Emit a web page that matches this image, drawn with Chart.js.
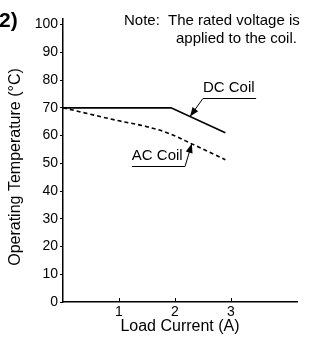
<!DOCTYPE html>
<html>
<head>
<meta charset="utf-8">
<script src="https://cdn.jsdelivr.net/npm/chart.js@4.4.1/dist/chart.umd.min.js"></script>
<style>
  html, body { margin: 0; padding: 0; background: #fff; overflow: hidden; }
</style>
</head>
<body>
<canvas id="tempChart" width="309" height="341"></canvas>
<script>
// data
const dcCurrent = [0, 1.93, 2.9];
const dcTemp = [70, 70, 61];
const acCurrent = [0, 1, 1.5, 1.9, 2.3, 2.9];
const acTemp = [70, 65.3, 63.2, 60.7, 57, 51.3];
const xTicks = [1, 2, 3];
const yTicks = [0, 10, 20, 30, 40, 50, 60, 70, 80, 90, 100];

// callouts: label, text anchor (x, y), underline end x, arrow tip (x, y), all in data units
const dcCallout = { label: 'DC Coil', x: 2.5, y: 77.3, lineY: 73.4, lineEnd: 3.45, from: 'start', tip: [2.27, 66.9] };
const acCallout = { label: 'AC Coil', x: 1.23, y: 52.5, lineY: 49.1, lineEnd: 2.18, from: 'end', tip: [2.3, 57] };

const FONT = "'Liberation Sans', Arial, Helvetica, sans-serif";

function toPoints(xs, ys) {
    return xs.map((x, i) => ({ x: x, y: ys[i] }));
}

function drawArrow(ctx, x0, y0, x1, y1) {
    ctx.beginPath();
    ctx.moveTo(x0, y0);
    ctx.lineTo(x1, y1);
    ctx.stroke();
    const ang = Math.atan2(y1 - y0, x1 - x0);
    const len = 9, half = 3.5;
    ctx.beginPath();
    ctx.moveTo(x1, y1);
    ctx.lineTo(x1 - len * Math.cos(ang) + half * Math.sin(ang), y1 - len * Math.sin(ang) - half * Math.cos(ang));
    ctx.lineTo(x1 - len * Math.cos(ang) - half * Math.sin(ang), y1 - len * Math.sin(ang) + half * Math.cos(ang));
    ctx.closePath();
    ctx.fill();
}

const extras = {
    id: 'extras',
    afterDraw(chart) {
        const ctx = chart.ctx;
        const xs = chart.scales.x, ys = chart.scales.y;
        ctx.save();
        ctx.strokeStyle = '#000';
        ctx.fillStyle = '#000';
        ctx.lineWidth = 1;

        // x ticks point up into the plot
        xTicks.forEach(v => {
            const px = Math.round(xs.getPixelForValue(v)) + 0.5;
            ctx.beginPath();
            ctx.moveTo(px, ys.bottom);
            ctx.lineTo(px, ys.bottom - 4);
            ctx.stroke();
        });

        // callouts
        ctx.font = '15px ' + FONT;
        ctx.textBaseline = 'middle';
        ctx.textAlign = 'left';
        [dcCallout, acCallout].forEach(c => {
            const tx = xs.getPixelForValue(c.x);
            ctx.fillText(c.label, tx, ys.getPixelForValue(c.y));
            const ly = Math.round(ys.getPixelForValue(c.lineY)) + 0.5;
            const lx1 = xs.getPixelForValue(c.lineEnd);
            ctx.beginPath();
            ctx.moveTo(tx, ly);
            ctx.lineTo(lx1, ly);
            ctx.stroke();
            const sx = c.from === 'start' ? tx : lx1;
            drawArrow(ctx, sx, ly, xs.getPixelForValue(c.tip[0]), ys.getPixelForValue(c.tip[1]));
        });

        // note
        ctx.fillText('Note:', 124, 21);
        ctx.fillText('The rated voltage is', 168, 21);
        ctx.fillText('applied to the coil.', 176, 39);

        // y axis title, sits a little below the plot centre in the reference
        ctx.save();
        ctx.font = '16px ' + FONT;
        ctx.textAlign = 'center';
        ctx.translate(16, 167);
        ctx.rotate(-Math.PI / 2);
        ctx.fillText('Operating Temperature (°C)', 0, 0);
        ctx.restore();

        // figure number
        ctx.font = 'bold 21px ' + FONT;
        ctx.fillText('2)', -1, 21);
        ctx.restore();
    }
};

const ctx = document.getElementById('tempChart').getContext('2d');
new Chart(ctx, {
    type: 'line',
    data: {
        datasets: [{
            label: 'DC Coil',
            data: toPoints(dcCurrent, dcTemp),
            borderColor: '#000',
            borderWidth: 1.7,
            pointRadius: 0,
            tension: 0
        }, {
            label: 'AC Coil',
            data: toPoints(acCurrent, acTemp),
            borderColor: '#000',
            borderWidth: 1.6,
            borderDash: [4, 3],
            pointRadius: 0,
            cubicInterpolationMode: 'monotone'
        }]
    },
    options: {
        responsive: false,
        animation: false,
        layout: { padding: { top: 19, right: 12, left: 0, bottom: 0 } },
        plugins: { legend: { display: false }, tooltip: { enabled: false } },
        scales: {
            x: {
                type: 'linear',
                min: 0,
                max: 4.18,
                afterBuildTicks: s => { s.ticks = xTicks.map(v => ({ value: v })); },
                afterFit: s => { s.height = 39; },
                grid: { display: false, drawOnChartArea: false, tickLength: 0 },
                border: { display: true, color: '#000', width: 1.5 },
                ticks: { color: '#000', padding: 2, font: { family: FONT, size: 14 } },
                title: {
                    display: true,
                    text: 'Load Current (A)',
                    color: '#000',
                    font: { family: FONT, size: 16 },
                    padding: { top: 0, bottom: 5 }
                }
            },
            y: {
                min: 0,
                max: 102,
                afterBuildTicks: s => { s.ticks = yTicks.map(v => ({ value: v })); },
                afterFit: s => { s.width = 63; },
                grid: { drawOnChartArea: false, color: '#000', tickLength: 3, tickWidth: 1 },
                border: { display: true, color: '#000', width: 1.5 },
                ticks: { color: '#000', padding: 2, font: { family: FONT, size: 14 } },
                title: { display: false }
            }
        }
    },
    plugins: [extras]
});
</script>
</body>
</html>
